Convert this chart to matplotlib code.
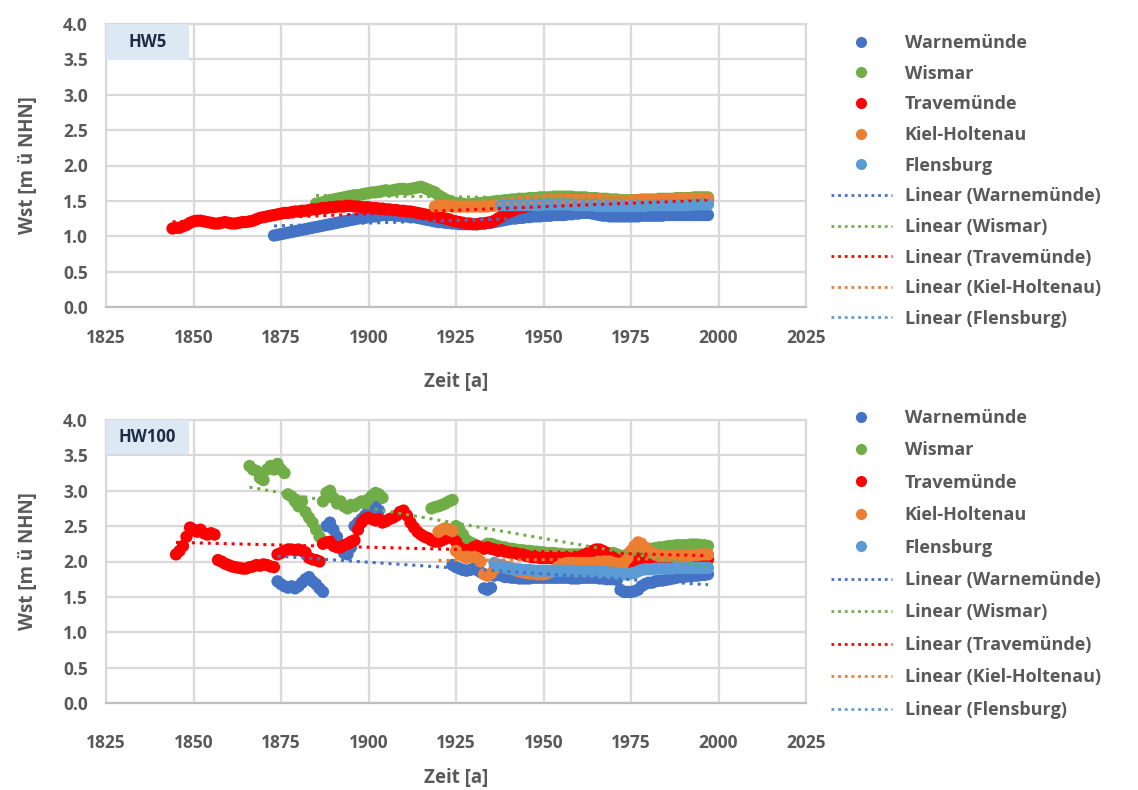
import numpy as np
import matplotlib
matplotlib.use("Agg")
import matplotlib.pyplot as plt
from matplotlib.lines import Line2D
from matplotlib.patches import Rectangle

plt.rcParams['font.family'] = ['Open Sans', 'DejaVu Sans']

nan = np.nan

# ---------- HW5 (jährliche Werte, ab Startjahr) ----------
hw5_warnemuende_start = 1873
hw5_warnemuende = [
    1.01, 1.02, 1.03, 1.04, 1.05, 1.06, 1.07,
    1.08, 1.09, 1.10, 1.11, 1.12, 1.13, 1.14, 1.15, 1.16, 1.17,
    1.18, 1.19, 1.20, 1.21, 1.22, 1.23, 1.24, 1.25, 1.26, 1.26,
    1.27, 1.28, 1.28, 1.29, 1.30, 1.30, 1.30, 1.30, 1.29, 1.29,
    1.28, 1.28, 1.27, 1.27, 1.26, 1.25, 1.24, 1.23, 1.22, 1.21,
    1.20, 1.20, 1.19, 1.19, 1.18, 1.18, 1.17, 1.17, 1.17, 1.17,
    1.17, 1.17, 1.18, 1.18, 1.19, 1.19, 1.20, 1.21, 1.22, 1.23,
    1.24, 1.25, 1.25, 1.26, 1.26, 1.27, 1.27, 1.28, 1.28, 1.28,
    1.29, 1.29, 1.29, 1.30, 1.30, 1.30, 1.30, 1.31, 1.31, 1.32,
    1.32, 1.33, 1.33, 1.33, 1.32, 1.31, 1.30, 1.29, 1.29, 1.28,
    1.28, 1.28, 1.28, 1.28, 1.28, 1.28, 1.28, 1.28, 1.29, 1.29,
    1.29, 1.29, 1.29, 1.29, 1.29, 1.30, 1.30, 1.30, 1.30, 1.30,
    1.30, 1.30, 1.30, 1.30, 1.30, 1.30, 1.30, 1.30,
]
hw5_wismar_start = 1885
hw5_wismar = [
    1.46, 1.47, 1.48, 1.50, 1.51,
    1.52, 1.53, 1.54, 1.55, 1.56, 1.57, 1.58, 1.58, 1.59, 1.60,
    1.61, 1.62, 1.62, 1.63, 1.64, 1.65, 1.64, 1.65, 1.66, 1.67,
    1.67, 1.66, 1.67, 1.68, 1.69, 1.70, 1.68, 1.66, 1.64, 1.62,
    1.58, 1.55, 1.52, 1.50, 1.48, 1.47, 1.46, 1.46, 1.45, 1.45,
    1.46, 1.46, 1.47, 1.47, 1.48, 1.48, 1.49, 1.50, 1.50, 1.51,
    1.51, 1.52, 1.52, 1.53, 1.53, 1.53, 1.54, 1.54, 1.54, 1.55,
    1.55, 1.55, 1.55, 1.56, 1.56, 1.56, 1.56, 1.56, 1.56, 1.55,
    1.55, 1.55, 1.55, 1.54, 1.54, 1.54, 1.53, 1.53, 1.53, 1.52,
    1.52, 1.52, 1.51, 1.51, 1.51, 1.51, 1.51, 1.51, 1.52, 1.52,
    1.52, 1.52, 1.52, 1.53, 1.53, 1.53, 1.53, 1.53, 1.54, 1.54,
    1.54, 1.54, 1.54, 1.55, 1.55, 1.55, 1.55, 1.55,
]
hw5_travemuende_start = 1844
hw5_travemuende = [
    1.11, 1.12, 1.12, 1.14, 1.16, 1.19,
    1.21, 1.22, 1.22, 1.21, 1.20, 1.19, 1.18, 1.18, 1.19, 1.20,
    1.19, 1.18, 1.18, 1.19, 1.20, 1.20, 1.21, 1.22, 1.24, 1.26,
    1.27, 1.28, 1.29, 1.30, 1.31, 1.32, 1.33, 1.33, 1.34, 1.35,
    1.35, 1.36, 1.36, 1.37, 1.38, 1.38, 1.39, 1.40, 1.40, 1.41,
    1.41, 1.42, 1.42, 1.42, 1.43, 1.43, 1.42, 1.42, 1.41, 1.41,
    1.41, 1.40, 1.40, 1.39, 1.39, 1.38, 1.38, 1.37, 1.37, 1.36,
    1.36, 1.35, 1.35, 1.34, 1.33, 1.32, 1.31, 1.30, 1.29, 1.28,
    1.27, 1.26, 1.25, 1.24, 1.22, 1.21, 1.20, 1.19, 1.18, 1.18,
    1.17, 1.17, 1.18, 1.18, 1.19, 1.20, 1.22, 1.25, 1.28, 1.31,
    1.34, 1.36, 1.38, 1.40, 1.41, 1.42, 1.43, 1.44, 1.45, 1.45,
    1.46, 1.47, 1.47, 1.48, 1.49, 1.50, 1.51, 1.51, 1.52, 1.52,
    1.52, 1.52, 1.52, 1.51, 1.51, 1.50, 1.50, 1.49, 1.49, 1.48,
    1.48, 1.48, 1.47, 1.47, 1.47, 1.47, 1.47, 1.47, 1.48, 1.48,
    1.48, 1.48, 1.48, 1.49, 1.49, 1.49, 1.49, 1.50, 1.50, 1.50,
    1.50, 1.50, 1.51, 1.51, 1.51, 1.51, 1.52, 1.52,
]
hw5_kiel_start = 1919
hw5_kiel = [
    1.42,
    1.43, 1.43, 1.43, 1.43, 1.42, 1.42, 1.42, 1.42, 1.42, 1.42,
    1.42, 1.42, 1.42, 1.42, 1.42, 1.43, 1.43, 1.44, 1.45, 1.46,
    1.47, 1.47, 1.48, 1.48, 1.49, 1.49, 1.49, 1.50, 1.50, 1.50,
    1.50, 1.51, 1.51, 1.51, 1.51, 1.51, 1.52, 1.52, 1.52, 1.52,
    1.52, 1.52, 1.52, 1.52, 1.51, 1.51, 1.51, 1.51, 1.50, 1.50,
    1.50, 1.50, 1.50, 1.50, 1.50, 1.50, 1.50, 1.51, 1.51, 1.51,
    1.51, 1.51, 1.51, 1.52, 1.52, 1.52, 1.52, 1.52, 1.53, 1.53,
    1.53, 1.53, 1.53, 1.53, 1.53, 1.53, 1.53, 1.53,
]
hw5_flensburg_start = 1938
hw5_flensburg = [
    1.44, 1.44,
    1.44, 1.44, 1.44, 1.44, 1.44, 1.44, 1.44, 1.44, 1.44, 1.44,
    1.45, 1.45, 1.45, 1.45, 1.45, 1.45, 1.45, 1.45, 1.45, 1.44,
    1.44, 1.44, 1.44, 1.44, 1.44, 1.43, 1.43, 1.43, 1.43, 1.43,
    1.43, 1.43, 1.43, 1.43, 1.43, 1.43, 1.43, 1.43, 1.43, 1.43,
    1.44, 1.44, 1.44, 1.44, 1.44, 1.44, 1.44, 1.44, 1.44, 1.44,
    1.44, 1.44, 1.44, 1.45, 1.45, 1.45, 1.45, 1.45,
]

# ---------- HW100 ----------
hw100_warnemuende_start = 1874
hw100_warnemuende = [
    1.72, 1.68, 1.65, 1.63, 1.65, 1.62,
    1.65, 1.70, 1.75, 1.78, 1.72, 1.68, 1.62, 1.57, 2.50, 2.55,
    2.45, 2.35, 2.20, 2.12, 2.10, 2.20, 2.50, 2.55, 2.60, 2.65,
    2.75, 2.80, 2.78, 2.72, nan, nan, nan, nan, nan, nan,
    nan, nan, nan, nan, nan, nan, nan, nan, nan, nan,
    nan, nan, nan, nan, 1.95, 1.92, 1.90, 1.88, 1.87, 1.88,
    1.90, 1.88, 1.85, 1.62, 1.60, 1.63, 1.80, 1.82, 1.80, 1.78,
    1.78, 1.77, 1.77, 1.76, 1.76, 1.76, 1.76, 1.77, 1.77, 1.77,
    1.77, 1.77, 1.77, 1.77, 1.77, 1.77, 1.77, 1.77, 1.76, 1.76,
    1.76, 1.77, 1.77, 1.77, 1.77, 1.77, 1.76, 1.76, 1.75, 1.75,
    1.75, 1.74, 1.60, 1.57, 1.57, 1.57, 1.58, 1.60, 1.65, 1.68,
    1.70, 1.70, 1.72, 1.73, 1.73, 1.74, 1.75, 1.76, 1.77, 1.78,
    1.78, 1.79, 1.79, 1.80, 1.80, 1.81, 1.81, 1.82,
]
hw100_wismar_start = 1866
hw100_wismar = [
    3.35, 3.30, 3.28, 3.18,
    3.15, 3.30, 3.35, 3.30, 3.38, 3.30, 3.25, 2.95, 2.92, 2.85,
    2.78, 2.85, 2.70, 2.62, 2.55, 2.45, 2.35, 2.85, 2.97, 3.00,
    2.90, 2.82, 2.85, 2.78, 2.75, 2.80, 2.78, 2.82, 2.85, 2.83,
    2.88, 2.93, 2.97, 2.95, 2.90, nan, nan, nan, nan, nan,
    nan, nan, nan, nan, nan, nan, nan, nan, 2.75, 2.77,
    2.78, 2.80, 2.82, 2.85, 2.87, 2.50, 2.45, 2.38, 2.30, 2.27,
    2.25, 2.22, 2.20, 2.22, 2.25, 2.25, 2.23, 2.22, 2.20, 2.20,
    2.18, 2.18, 2.17, 2.16, 2.16, 2.15, 2.15, 2.14, 2.14, 2.13,
    2.13, 2.12, 2.12, 2.12, 2.11, 2.11, 2.10, 2.10, 2.10, 2.10,
    2.10, 2.10, 2.10, 2.11, 2.11, 2.12, 2.12, 2.12, 2.12, 2.12,
    2.12, 2.10, 2.08, 2.08, 2.10, 2.12, 2.14, 2.15, 2.16, 2.17,
    2.18, 2.18, 2.19, 2.20, 2.20, 2.21, 2.22, 2.22, 2.23, 2.23,
    2.23, 2.23, 2.24, 2.24, 2.24, 2.23, 2.23, 2.22,
]
hw100_travemuende_start = 1845
hw100_travemuende = [
    2.10, 2.15, 2.22, 2.35, 2.48,
    2.45, 2.42, 2.45, 2.40, 2.38, 2.40, 2.38, 2.02, 2.00, 1.97,
    1.95, 1.93, 1.92, 1.91, 1.90, 1.90, 1.92, 1.93, 1.95, 1.94,
    1.96, 1.95, 1.93, 1.92, 2.10, 2.12, 2.15, 2.17, 2.17, 2.16,
    2.17, 2.15, 2.13, 2.05, 2.03, 2.02, 2.00, 2.25, 2.27, 2.28,
    2.22, 2.20, 2.20, 2.23, 2.25, 2.28, 2.30, 2.45, 2.55, 2.60,
    2.62, 2.60, 2.58, 2.60, 2.55, 2.57, 2.60, 2.62, 2.65, 2.70,
    2.72, 2.65, 2.55, 2.48, 2.42, 2.38, 2.35, 2.33, 2.30, 2.28,
    2.28, 2.30, 2.32, 2.35, 2.33, 2.28, 2.20, 2.17, 2.15, 2.17,
    2.20, 2.22, 2.20, 2.18, 2.20, 2.18, 2.17, 2.15, 2.16, 2.14,
    2.13, 2.12, 2.12, 2.10, 2.10, 2.08, 2.07, 2.06, 2.06, 2.05,
    2.05, 2.05, 2.05, 2.05, 2.04, 2.05, 2.05, 2.05, 2.04, 2.05,
    2.06, 2.08, 2.10, 2.13, 2.15, 2.17, 2.17, 2.15, 2.12, 2.08,
    2.05, 2.02, 2.00, 2.00, 1.98, 2.00, 2.01, 2.02, 2.03, 2.03,
    2.03, 2.03, 2.03, 2.03, 2.03, 2.03, 2.03, 2.04, 2.04, 2.04,
    2.04, 2.04, 2.04, 2.04, 2.04, 2.03, 2.03, 2.03,
]
hw100_kiel_start = 1920
hw100_kiel = [
    2.42, 2.45, 2.47, 2.45, 2.43, 2.15, 2.10, 2.08, 2.05, 2.07,
    2.07, 2.05, 2.00, 1.82, 1.80, 1.83, 1.90, 1.92, 1.95, 1.93,
    1.92, 1.90, 1.88, 1.86, 1.85, 1.84, 1.83, 1.83, 1.82, 1.82,
    1.82, 1.83, 1.85, 1.88, 1.92, 1.95, 1.97, 1.98, 1.98, 1.98,
    1.98, 1.98, 1.98, 1.98, 1.98, 1.98, 1.99, 2.00, 2.00, 2.00,
    1.98, 1.97, 1.97, 1.98, 2.05, 2.15, 2.22, 2.27, 2.25, 2.20,
    2.15, 2.12, 2.10, 2.08, 2.08, 2.08, 2.08, 2.08, 2.08, 2.08,
    2.08, 2.08, 2.08, 2.09, 2.09, 2.10, 2.10, 2.10,
]
hw100_flensburg_start = 1936
hw100_flensburg = [
    1.98, 1.95, 1.93, 1.92,
    1.90, 1.90, 1.89, 1.89, 1.88, 1.88, 1.88, 1.87, 1.87, 1.87,
    1.87, 1.87, 1.87, 1.87, 1.87, 1.87, 1.87, 1.87, 1.87, 1.86,
    1.86, 1.86, 1.86, 1.86, 1.86, 1.86, 1.85, 1.85, 1.85, 1.84,
    1.84, 1.83, 1.82, 1.82, 1.82, 1.83, 1.84, 1.86, 1.88, 1.89,
    1.89, 1.89, 1.90, 1.90, 1.90, 1.90, 1.90, 1.90, 1.91, 1.91,
    1.91, 1.91, 1.91, 1.91, 1.91, 1.91, 1.91, 1.91,
]

stations = ["Warnemünde", "Wismar", "Travemünde", "Kiel-Holtenau", "Flensburg"]
colors = ["#4472C4", "#70AD47", "#FF0000", "#ED7D31", "#5B9BD5"]

hw5_series = [
    (hw5_warnemuende_start, hw5_warnemuende),
    (hw5_wismar_start, hw5_wismar),
    (hw5_travemuende_start, hw5_travemuende),
    (hw5_kiel_start, hw5_kiel),
    (hw5_flensburg_start, hw5_flensburg),
]
hw100_series = [
    (hw100_warnemuende_start, hw100_warnemuende),
    (hw100_wismar_start, hw100_wismar),
    (hw100_travemuende_start, hw100_travemuende),
    (hw100_kiel_start, hw100_kiel),
    (hw100_flensburg_start, hw100_flensburg),
]

text_grey = "#595959"
grid_grey = "#d9d9d9"

fig = plt.figure(figsize=(11.38, 7.9), dpi=100)
ax_top = fig.add_axes([106 / 1138, 1 - 307 / 790, 700 / 1138, 283 / 790])
ax_bot = fig.add_axes([106 / 1138, 1 - 703 / 790, 700 / 1138, 283 / 790])


def draw_panel(ax, series, tag, xpad, xlabelpad, leg_y, leg_spacing, tag_h):
    # Punkte
    for (start, vals), col in zip(series, colors):
        y = np.array(vals, dtype=float)
        x = np.arange(start, start + len(y))
        ax.scatter(x, y, s=78, color=col, edgecolors='none', zorder=3)
    # lineare Trends (wie Excel-Trendlinie)
    for (start, vals), col in zip(series, colors):
        y = np.array(vals, dtype=float)
        x = np.arange(start, start + len(y))
        ok = ~np.isnan(y)
        k, d = np.polyfit(x[ok], y[ok], 1)
        xt = np.array([x[ok].min(), x[ok].max()])
        ax.plot(xt, k * xt + d, linestyle=(0, (1, 1.6)), linewidth=2.2,
                color=col, zorder=4)

    ax.set_xlim(1825, 2025)
    ax.set_ylim(0, 4)
    ax.set_xticks(np.arange(1825, 2026, 25))
    ax.set_yticks(np.arange(0, 4.01, 0.5))
    ax.yaxis.set_major_formatter(plt.FormatStrFormatter('%.1f'))
    ax.grid(True, color=grid_grey, linewidth=1.6, zorder=0)
    ax.set_axisbelow(True)
    for sp in ax.spines.values():
        sp.set_color(grid_grey)
        sp.set_linewidth(1.6)
    ax.spines['bottom'].set_color("#bfbfbf")
    ax.tick_params(length=0, labelsize=12.5, labelcolor=text_grey)
    ax.tick_params(axis='x', pad=xpad)
    ax.tick_params(axis='y', pad=13)
    for lab in ax.get_xticklabels() + ax.get_yticklabels():
        lab.set_fontweight('bold')
    ax.set_xlabel("Zeit [a]", fontsize=13.5, fontweight='bold', color=text_grey, labelpad=xlabelpad)
    ax.set_ylabel("Wst [m ü NHN]", fontsize=13.5, fontweight='bold', color=text_grey, labelpad=18)

    # Kennzeichnung oben links
    bw, bh = 83 / 700, tag_h / 283
    ax.add_patch(Rectangle((0, 1 - bh), bw, bh, transform=ax.transAxes,
                           facecolor="#dde8f5", edgecolor='none', zorder=5, clip_on=False))
    ax.text(bw / 2, 1 - bh / 2, tag, transform=ax.transAxes, ha='center', va='center',
            fontsize=12, fontweight='bold', color="#1f2a44", zorder=6)

    handles = [Line2D([], [], linestyle='none', marker='o', markersize=8,
                      markerfacecolor=c, markeredgecolor='none') for c in colors]
    handles += [Line2D([], [], linestyle=(0, (1, 1.4)), linewidth=2, color=c) for c in colors]
    labels = stations + [f"Linear ({s})" for s in stations]
    leg = ax.legend(handles, labels, loc='upper left', bbox_to_anchor=(1.025, leg_y),
                    frameon=False, fontsize=13, handlelength=3.4, handletextpad=0.7,
                    labelspacing=leg_spacing, borderaxespad=0)
    for t in leg.get_texts():
        t.set_color(text_grey)
        t.set_fontweight('bold')


draw_panel(ax_top, hw5_series, "HW5", xpad=16, xlabelpad=18, leg_y=0.99, leg_spacing=0.70, tag_h=36)
draw_panel(ax_bot, hw100_series, "HW100", xpad=22, xlabelpad=12, leg_y=1.065, leg_spacing=0.80, tag_h=34)

fig.savefig("out.png", dpi=100)
